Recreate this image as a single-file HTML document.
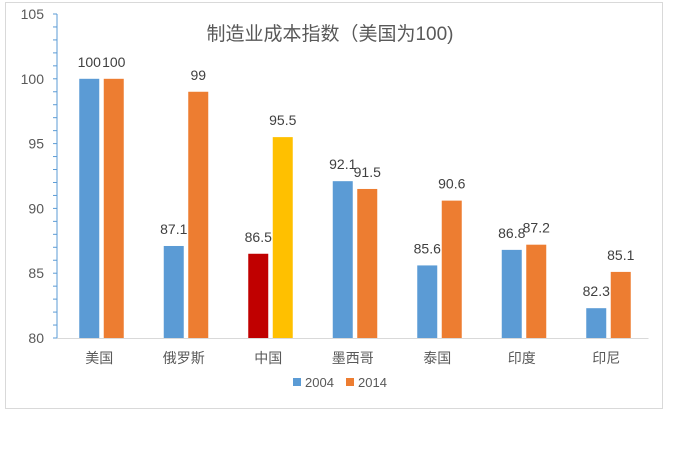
<!DOCTYPE html>
<html><head><meta charset="utf-8"><style>
body{margin:0;background:#fff;width:676px;height:468px;overflow:hidden;font-family:"Liberation Sans","Noto Sans CJK SC",sans-serif}
</style></head><body>
<svg width="676" height="468" xmlns="http://www.w3.org/2000/svg" font-family="Liberation Sans, Noto Sans CJK SC, sans-serif">
<rect x="5.5" y="2.5" width="657" height="406" fill="#fff" stroke="#d9d9d9"/>
<text x="330" y="40" font-size="19" fill="#595959" text-anchor="middle">制造业成本指数（美国为100)</text>
<g id="axes"></g><g id="bars"></g>
<g>
<rect x="293" y="378" width="8" height="8" fill="#5b9bd5"/>
<text x="305" y="387" font-size="13" fill="#595959">2004</text>
<rect x="346" y="378" width="8" height="8" fill="#ed7d31"/>
<text x="358" y="387" font-size="13" fill="#595959">2014</text>
</g>
</svg>
<script>
const categories=["美国","俄罗斯","中国","墨西哥","泰国","印度","印尼"];
const values2004=[100,87.1,86.5,92.1,85.6,86.8,82.3];
const values2014=[100,99,95.5,91.5,90.6,87.2,85.1];
const yTicks=[80,85,90,95,100,105];
const NS="http://www.w3.org/2000/svg";
const x0=57,band=84.5,yMin=80,yMax=105,yTop=14,yBot=338;
const y=v=>yBot-(v-yMin)/(yMax-yMin)*(yBot-yTop);
const cx=i=>x0+band*(i+0.5);
function mk(tag,attrs,parent){const e=document.createElementNS(NS,tag);for(const k in attrs)e.setAttribute(k,attrs[k]);parent.appendChild(e);return e;}
const ax=document.getElementById('axes'),bg=document.getElementById('bars');
let l=mk('line',{x1:x0,y1:yTop,x2:x0,y2:yBot,stroke:'#5b9bd5'},ax);


l=mk('line',{x1:x0,y1:yBot+0.5,x2:x0+band*7,y2:yBot+0.5,stroke:'#d9d9d9'},ax);


for(let v=yMin;v<=yMax;v++){mk('line',{x1:x0-4,y1:y(v),x2:x0,y2:y(v),stroke:'#5b9bd5'},ax);}
yTicks.forEach(v=>{const t=mk('text',{x:x0-13,y:y(v)+5,'font-size':14,fill:'#595959','text-anchor':'end'},ax);t.textContent=v;

});
categories.forEach((c,i)=>{
 const t=mk('text',{x:cx(i),y:yBot+25,'font-size':14,fill:'#595959','text-anchor':'middle'},ax);t.textContent=c;
 
 
 [[values2004[i],-20,i===2?'#c00000':'#5b9bd5'],[values2014[i],4.5,i===2?'#ffc000':'#ed7d31']].forEach(([v,off,col],s)=>{
  const r=mk('rect',{x:cx(i)+off,y:y(v),width:20,height:yBot-y(v),fill:col},bg);
  
  
  const lb=mk('text',{x:cx(i)+off+10,y:y(v)-12,'font-size':14,fill:'#404040','text-anchor':'middle'},bg);lb.textContent=v;
  
  
 });
});
</script>
</body></html>
